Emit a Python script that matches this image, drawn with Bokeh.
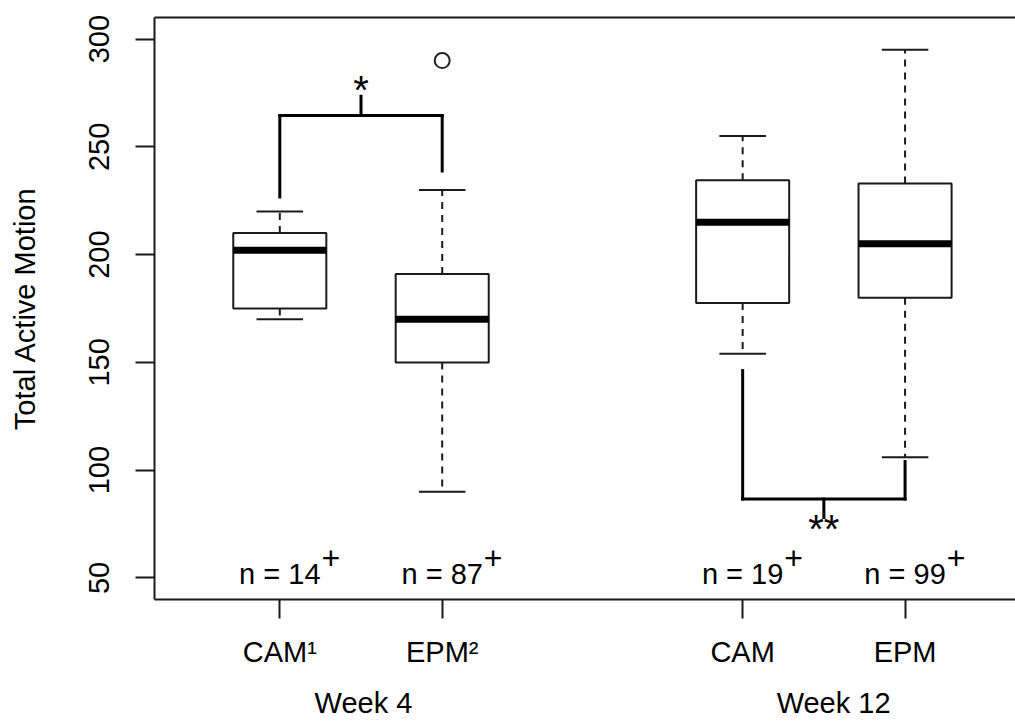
import math
from bokeh.plotting import figure
from bokeh.models import Range1d, FixedTicker, LinearAxis
from bokeh.embed import file_html
from bokeh.resources import INLINE
from bokeh.core.properties import value

# ---------------- data ----------------
group_labels = ["CAM¹", "EPM²", "CAM", "EPM"]
positions = [1.0, 2.0, 3.85, 4.85]
whisker_low = [170, 90, 154, 106]
q1 = [175, 150, 177.6, 180]
medians = [202, 170, 215, 205]
q3 = [210, 191, 234.5, 233]
whisker_high = [220, 230, 255, 295]
outlier_pos_index = [1]
outlier_values = [290]
n_labels = ["n = 14", "n = 87", "n = 19", "n = 99"]
week_labels = ["Week 4", "Week 12"]
week_groups = [(0, 1), (2, 3)]
y_ticks = [50, 100, 150, 200, 250, 300]

# significance brackets
sig_pairs = [(0, 1), (2, 3)]
sig_bar_y = [264.5, 86.6]
sig_leg_end = [(226.7, 238.8), (146.2, 104.0)]
sig_tick_end = [273.5, 78.0]
sig_text = ["*", "**"]
sig_text_y = [276.3, 72.6]

# ---------------- styling ----------------
FONT = "Liberation Sans"
FS = "29px"
INK = "#1a1a1a"
BOX_W = 0.573
CAP_W = BOX_W / 2
N_Y = 52

p = figure(width=1015, height=721, output_backend="svg", toolbar_location=None,
           x_range=Range1d(0.2285, 5.530), y_range=Range1d(40, 310),
           min_border_left=154, min_border_right=0, min_border_top=17, min_border_bottom=122)
p.outline_line_color = None
p.grid.visible = False
p.background_fill_color = "white"
p.border_fill_color = "white"

# axes
for ax in (p.xaxis[0], p.yaxis[0]):
    ax.axis_line_width = 2
    ax.axis_line_color = INK
    ax.major_tick_line_width = 2
    ax.major_tick_line_color = INK
    ax.major_tick_out = 19
    ax.major_tick_in = 0
    ax.minor_tick_line_color = None
    ax.major_label_text_font = FONT
    ax.major_label_text_font_size = FS
    ax.major_label_text_color = "black"

p.yaxis.ticker = FixedTicker(ticks=y_ticks)
p.yaxis.major_label_orientation = "vertical"
p.yaxis.major_label_standoff = 26
p.yaxis.axis_label = "Total Active Motion"
p.yaxis.axis_label_text_font = FONT
p.yaxis.axis_label_text_font_size = FS
p.yaxis.axis_label_text_font_style = "normal"
p.yaxis.axis_label_text_color = "black"
p.yaxis.axis_label_standoff = 46

p.xaxis.ticker = FixedTicker(ticks=positions)
p.xaxis.major_label_overrides = {pos: lab for pos, lab in zip(positions, group_labels)}
p.xaxis.major_label_standoff = 17

# second row of x labels: weeks
week_centers = [(positions[a] + positions[b]) / 2 + dx for (a, b), dx in zip(week_groups, [0.015, 0.06])]
week_axis = LinearAxis(ticker=FixedTicker(ticks=week_centers),
                       major_label_overrides={c: lab for c, lab in zip(week_centers, week_labels)},
                       axis_line_color=None, major_tick_line_color=None, minor_tick_line_color=None,
                       major_tick_out=0, major_tick_in=0, major_label_standoff=16,
                       major_label_text_font=FONT, major_label_text_font_size=FS,
                       major_label_text_color="black")
p.add_layout(week_axis, "below")

top = LinearAxis(ticker=FixedTicker(ticks=[]), axis_line_width=2, axis_line_color=INK,
                 major_tick_line_color=None, minor_tick_line_color=None,
                 major_label_text_font_size="0px", major_label_standoff=0)
p.add_layout(top, "above")

# whiskers
xs = positions + positions
p.segment(x0=xs, y0=q3 + q1, x1=xs, y1=whisker_high + whisker_low,
          line_color=INK, line_width=2, line_dash="7 6")
# caps
p.segment(x0=[x - CAP_W / 2 for x in xs], y0=whisker_high + whisker_low,
          x1=[x + CAP_W / 2 for x in xs], y1=whisker_high + whisker_low,
          line_color=INK, line_width=2)
# boxes
p.quad(left=[x - BOX_W / 2 for x in positions], right=[x + BOX_W / 2 for x in positions],
       bottom=q1, top=q3, fill_color="white", line_color=INK, line_width=2)
# medians
p.segment(x0=[x - BOX_W / 2 for x in positions], y0=medians,
          x1=[x + BOX_W / 2 for x in positions], y1=medians,
          line_color="black", line_width=7, line_cap="butt")
# outliers
p.scatter(x=[positions[i] for i in outlier_pos_index], y=outlier_values, marker="circle",
          size=15, fill_color=None, line_color="#222222", line_width=2)

# significance brackets
bx0, by0, bx1, by1 = [], [], [], []
tx, ty = [], []
for (a, b), yb, (la, lb), yt, txt_y in zip(sig_pairs, sig_bar_y, sig_leg_end, sig_tick_end, sig_text_y):
    xa, xb = positions[a], positions[b]
    mid = (xa + xb) / 2
    bx0 += [xa, xa, xb, mid]
    by0 += [yb, yb, yb, yb]
    bx1 += [xb, xa, xb, mid]
    by1 += [yb, la, lb, yt]
    tx.append(mid)
    ty.append(txt_y)
p.segment(x0=bx0, y0=by0, x1=bx1, y1=by1, line_color="black", line_width=3, line_cap="square")
p.text(x=tx, y=ty, text=sig_text, text_align="center", text_baseline="middle",
       text_font=value(FONT), text_font_size="40px", text_color="black")

# n labels
p.text(x=positions, y=[N_Y] * 4, text=n_labels, text_align="center", text_baseline="middle",
       text_font=value(FONT), text_font_size=FS, text_color="black")
p.text(x=positions, y=[N_Y] * 4, text=["+"] * 4, x_offset=51, y_offset=-16,
       text_align="center", text_baseline="middle",
       text_font=value(FONT), text_font_size="32px", text_color="black")

open("out.html", "w").write(file_html(p, INLINE))
